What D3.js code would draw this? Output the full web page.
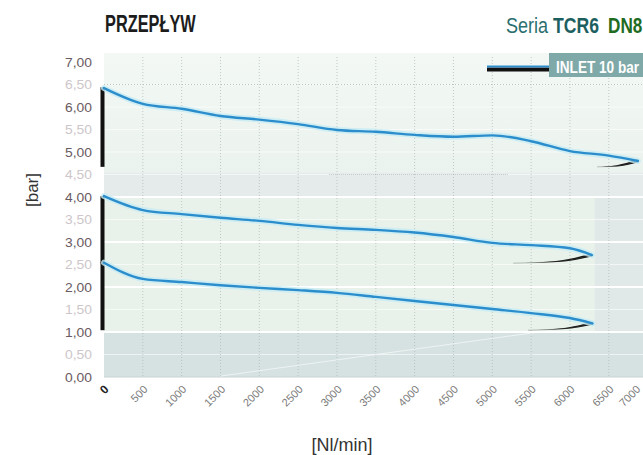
<!DOCTYPE html>
<html><head><meta charset="utf-8">
<script src="https://cdn.jsdelivr.net/npm/d3@7/dist/d3.min.js"></script>
<style>
html,body{margin:0;padding:0;background:#fff;}
svg{display:block;}
</style></head><body>
<svg id="c" width="643" height="455"></svg>
<script>
// ---- data ----
const xTicks = [0,500,1000,1500,2000,2500,3000,3500,4000,4500,5000,5500,6000,6500,7000];
const yTicks = [0,0.5,1,1.5,2,2.5,3,3.5,4,4.5,5,5.5,6,6.5,7];

const flowTop = [0,500,1000,1500,2000,2500,3000,3500,4000,4500,5000,5500,6000,6500,6875];
const presTop = [6.42,6.07,5.96,5.80,5.72,5.62,5.49,5.45,5.38,5.34,5.37,5.24,5.02,4.92,4.80];
const flowMid = [0,500,1000,1500,2000,2500,3000,3500,4000,4500,5000,5500,6000,6283];
const presMid = [4.02,3.71,3.62,3.54,3.47,3.38,3.31,3.27,3.21,3.11,2.98,2.93,2.86,2.71];
const flowLow = [0,500,1000,1500,2000,2500,3000,3500,4000,4500,5000,5500,6000,6290];
const presLow = [2.54,2.18,2.11,2.04,1.98,1.93,1.87,1.78,1.69,1.60,1.51,1.42,1.31,1.19];

// zero-flow pressure bars [from, to]
const barTop = [6.44, 4.67];
const barMid = [4.02, 2.53];
const barLow = [2.55, 1.04];

// return tails (flow, pressure)
const tailFlowTop = [6350, 6600, 6875];
const tailPresTop = [4.67, 4.69, 4.80];
const tailFlowMid = [5270, 5850, 6283];
const tailPresMid = [2.53, 2.57, 2.71];
const tailFlowLow = [5460, 5950, 6290];
const tailPresLow = [1.04, 1.08, 1.19];

const legendLabel = "INLET 10 bar";

// ---- drawing ----
const svg = d3.select("#c");
const x = d3.scaleLinear().domain([0, 7000]).range([104, 647.6]);
const y = d3.scaleLinear().domain([0, 7]).range([377, 62]);
const sans = "'Liberation Sans',Arial,sans-serif";
const plotL = x(0), plotR = 643, plotT = 53, plotB = y(0);

const defs = svg.append("defs");
const g1 = defs.append("linearGradient").attr("id","topg").attr("x1",0).attr("y1",0).attr("x2",0).attr("y2",1);
g1.append("stop").attr("offset","0%").attr("stop-color","#f3f8f5");
g1.append("stop").attr("offset","100%").attr("stop-color","#ebf3ee");

// background bands
svg.append("rect").attr("x",plotL).attr("y",plotT).attr("width",plotR-plotL).attr("height",y(4.55)-plotT).attr("fill","url(#topg)");
svg.append("rect").attr("x",plotL).attr("y",y(4.55)).attr("width",plotR-plotL).attr("height",y(4)-y(4.55)).attr("fill","#e4ebea");
svg.append("rect").attr("x",plotL).attr("y",y(4)).attr("width",plotR-plotL).attr("height",y(1)-y(4)).attr("fill","#e8f2eb");
svg.append("rect").attr("x",x(6320)).attr("y",y(4)).attr("width",plotR-x(6320)).attr("height",y(1)-y(4)).attr("fill","#e0e8e8");
svg.append("rect").attr("x",plotL).attr("y",y(1)).attr("width",plotR-plotL).attr("height",plotB-y(1)).attr("fill","#d5e2e1");

// horizontal grid lines
svg.append("g").selectAll("line").data(yTicks.filter(d => d > 0 && d < 7)).join("line")
  .attr("x1",plotL).attr("x2",plotR).attr("y1",d=>y(d)).attr("y2",d=>y(d))
  .attr("stroke","#ffffff")
  .attr("stroke-width",d => Number.isInteger(d) && d <= 4 ? 2 : 1)
  .attr("stroke-opacity",d => Number.isInteger(d) && d <= 4 ? 0.95 : 0.6);
svg.append("line").attr("x1",plotL).attr("x2",plotR).attr("y1",y(6.5)).attr("y2",y(6.5))
  .attr("stroke","#b9c4c2").attr("stroke-dasharray","1,2");
// vertical grid lines
svg.append("g").selectAll("line").data(xTicks.filter(d => d > 0)).join("line")
  .attr("x1",d=>x(d)).attr("x2",d=>x(d)).attr("y1",plotT+4).attr("y2",plotB)
  .attr("stroke","#a9b6b5").attr("stroke-width",1).attr("stroke-dasharray","1,2").attr("stroke-opacity",0.7);
svg.append("line").attr("x1",plotL).attr("x2",plotR).attr("y1",plotB).attr("y2",plotB).attr("stroke","#c9d3d2");

// faint artefacts
svg.append("path").attr("d", d3.line().x(d=>x(d[0])).y(d=>y(d[1])).curve(d3.curveBasis)([[1500,0.02],[3500,0.5],[5600,1.0]]))
  .attr("fill","none").attr("stroke","#ffffff").attr("stroke-opacity",0.6).attr("stroke-width",1);
svg.append("line").attr("x1",x(2900)).attr("x2",x(5200)).attr("y1",y(4.5)).attr("y2",y(4.5))
  .attr("stroke","#8a9494").attr("stroke-dasharray","1,1").attr("stroke-opacity",0.5);

// curves
const line = d3.line().x(d=>x(d[0])).y(d=>y(d[1])).curve(d3.curveMonotoneX);
const taper = [0, 1.3, 3];

function series(fl, pr, bar, tf, tp) {
  const pts = fl.map((f,i)=>[f, pr[i]]);
  const tpts = tf.map((f,i)=>[f, tp[i]]);
  svg.append("line").attr("x1",x(0)-1.5).attr("x2",x(0)-1.5).attr("y1",y(bar[0])).attr("y2",y(bar[1]))
    .attr("stroke","#111").attr("stroke-width",4);
  const up = d3.area().x(d=>x(d[0])).y0((d,i)=>y(d[1]) + taper[i]*0.45).y1((d,i)=>y(d[1]) - taper[i]*0.55).curve(d3.curveMonotoneX);
  svg.append("path").attr("d", up(tpts)).attr("fill","#111");
  svg.append("path").attr("d", line(tpts)).attr("fill","none").attr("stroke","#555").attr("stroke-width",0.6).attr("stroke-opacity",0.6);
  svg.append("path").attr("d", line(pts)).attr("fill","none").attr("stroke","#c5ebf4").attr("stroke-width",6).attr("stroke-opacity",0.8).attr("stroke-linecap","round");
  svg.append("path").attr("d", line(pts)).attr("fill","none").attr("stroke","#2b8dcb").attr("stroke-width",2.4).attr("stroke-linecap","round");
}
series(flowTop, presTop, barTop, tailFlowTop, tailPresTop);
series(flowMid, presMid, barMid, tailFlowMid, tailPresMid);
series(flowLow, presLow, barLow, tailFlowLow, tailPresLow);

// y axis labels
const yAxis = d3.axisLeft(y).tickValues(yTicks).tickSize(0).tickPadding(0)
  .tickFormat(d => d3.format(".2f")(d).replace(".", ","));
const ya = svg.append("g").attr("transform", `translate(92,0)`).call(yAxis);
ya.select(".domain").remove();
ya.selectAll("text").attr("font-family",sans).attr("font-size",13)
  .attr("textLength",27).attr("lengthAdjust","spacingAndGlyphs")
  .attr("fill", d => Number.isInteger(d) ? "#6a5a61" : "#cdc6ca");

// x axis labels
const xAxis = d3.axisBottom(x).tickValues(xTicks).tickSize(0).tickPadding(0).tickFormat(d => String(d));
const xa = svg.append("g").attr("transform", `translate(0,${plotB})`).call(xAxis);
xa.select(".domain").remove();
xa.selectAll("text").attr("y",0).attr("dy",0).attr("text-anchor","end")
  .attr("transform", d => d === 7000 ? "translate(-7,13) rotate(-45)" : "translate(5,13) rotate(-45)")
  .attr("font-family",sans).attr("font-size",11).attr("fill","#7a7a7a");
xa.selectAll("text").filter(d => d === 0).attr("font-weight","bold").attr("fill","#222").attr("font-size",12);

// axis titles
svg.append("text").attr("transform","translate(38,190) rotate(-90)").attr("text-anchor","middle")
  .attr("font-family",sans).attr("font-size",17).attr("fill","#333").text("[bar]");
svg.append("text").attr("x",342).attr("y",451).attr("text-anchor","middle")
  .attr("font-family",sans).attr("font-size",18).attr("fill","#333").text("[Nl/min]");

// titles (horizontally condensed)
function condensed(txt, px, py, sx, size, weight, fill) {
  svg.append("text").attr("transform",`translate(${px},${py}) scale(${sx},1)`)
    .attr("font-family",sans).attr("font-size",size).attr("font-weight",weight).attr("fill",fill).text(txt);
}
condensed("PRZEPŁYW", 105, 32, 0.71, 23, "bold", "#1c1c1c");
condensed("Seria", 506, 33, 0.82, 22, "normal", "#2b6f70");
condensed("TCR6", 553, 33, 0.8, 22, "bold", "#1d5f60");
condensed("DN8", 608, 33, 0.78, 22, "bold", "#1e6b21");

// legend
svg.append("line").attr("x1",487).attr("x2",552).attr("y1",69.5).attr("y2",69.5).attr("stroke","#111").attr("stroke-width",4);
svg.append("line").attr("x1",487).attr("x2",552).attr("y1",66.5).attr("y2",66.5).attr("stroke","#2b8dcb").attr("stroke-width",2);
svg.append("rect").attr("x",549).attr("y",53).attr("width",100).attr("height",24).attr("fill","#7fa9a8");
condensed(legendLabel, 556, 72.5, 0.8, 17, "bold", "#ffffff");
</script>
</body></html>
